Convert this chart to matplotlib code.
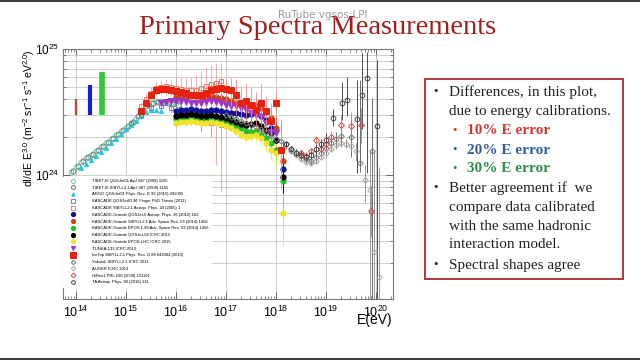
import numpy as np
import matplotlib
matplotlib.use("Agg")
import matplotlib.pyplot as plt
from matplotlib.patches import Rectangle
from matplotlib.ticker import LogLocator, NullFormatter, FixedLocator

plt.rcParams['font.family'] = ['Liberation Sans', 'DejaVu Sans']
plt.rcParams['mathtext.fontset'] = 'custom'
plt.rcParams['mathtext.rm'] = 'Liberation Sans'
plt.rcParams['mathtext.it'] = 'Liberation Sans:italic'
plt.rcParams['mathtext.bf'] = 'Liberation Sans:bold'

# ---------------- data (log10 E [eV], E^3 dI/dE in units of 1e24) ----------------
tibq_logE = [13.9, 14.0, 14.1, 14.2, 14.3, 14.4, 14.5, 14.6, 14.7, 14.8, 14.9,
             15.0, 15.1, 15.2, 15.3, 15.4, 15.5, 15.6, 15.7, 15.8, 15.9, 16.0]
tibq_F = [1.05, 1.16, 1.27, 1.37, 1.45, 1.55, 1.66, 1.80, 1.93, 2.07, 2.22,
          2.38, 2.55, 2.80, 3.20, 3.55, 3.75, 3.85, 3.85, 3.80, 3.75, 3.70]
tibs_logE = [13.95, 14.05, 14.15, 14.25, 14.35, 14.45, 14.55, 14.65, 14.75, 14.85, 14.95,
             15.05, 15.15, 15.25, 15.35, 15.45, 15.55, 15.65, 15.75, 15.85, 15.95, 16.05]
tibs_F = [1.08, 1.19, 1.29, 1.38, 1.48, 1.58, 1.70, 1.83, 1.97, 2.12, 2.28,
          2.45, 2.65, 2.95, 3.30, 3.60, 3.75, 3.80, 3.75, 3.70, 3.65, 3.60]
argo_logE = [14.1, 14.2, 14.3, 14.4, 14.5, 14.6, 14.7, 14.8, 14.9, 15.0, 15.1,
             15.2, 15.3, 15.4, 15.5, 15.6, 15.7]
argo_F = [1.13, 1.22, 1.32, 1.42, 1.52, 1.65, 1.80, 1.95, 2.12, 2.30, 2.50,
          2.70, 2.95, 3.15, 3.30, 3.30, 3.22]
kq_logE = [15.1, 15.3, 15.5, 15.7, 15.9, 16.1, 16.3, 16.5, 16.7, 16.9]
kq_F = [2.6, 3.0, 3.4, 3.5, 3.4, 3.2, 3.0, 2.8, 2.6, 2.5]
kq_hi = [0.2, 0.2, 0.3, 0.3, 0.3, 0.4, 0.5, 0.6, 0.8, 1.0]
kq_lo = [0.2, 0.2, 0.3, 0.3, 0.3, 0.4, 0.5, 0.6, 0.6, 0.8]
ks_logE = [15.3, 15.4, 15.5, 15.6, 15.7, 15.8, 15.9, 16.0, 16.1, 16.2, 16.3,
           16.4, 16.5, 16.6, 16.7, 16.8, 16.9]
ks_F = [3.5, 4.0, 4.5, 4.9, 5.0, 5.05, 5.0, 4.95, 4.85, 4.75, 4.7,
        4.75, 4.9, 5.1, 5.3, 5.4, 5.6]
ks_hi = [0.3, 0.4, 0.5, 0.6, 0.6, 0.7, 0.8, 0.9, 1.0, 1.1, 1.3,
         1.5, 1.8, 2.0, 2.2, 2.3, 2.1]
ks_lo = [0.3, 0.4, 0.5, 0.6, 0.6, 0.7, 0.8, 0.9, 1.0, 1.1, 1.3,
         1.5, 1.8, 2.2, 3.0, 4.2, 4.87]
kg_logE = [16.0, 16.1, 16.2, 16.3, 16.4, 16.5, 16.6, 16.7, 16.8, 16.9, 17.0,
           17.1, 17.2, 17.3, 17.4, 17.5, 17.6, 17.7, 17.8, 17.9, 18.0, 18.15]
kg_relerr = [0.03, 0.03, 0.03, 0.03, 0.03, 0.03, 0.04, 0.04, 0.04, 0.05, 0.05,
             0.06, 0.06, 0.07, 0.08, 0.09, 0.10, 0.12, 0.14, 0.17, 0.22, 0.45]
kgq2_F = [3.22, 3.28, 3.28, 3.34, 3.28, 3.22, 3.22, 3.28, 3.28, 3.22, 3.16,
          3.10, 3.10, 3.05, 2.99, 3.05, 3.10, 2.94, 2.73, 2.36, 1.89, 1.12]
kgsib_F = [4.16, 4.24, 4.24, 4.31, 4.24, 4.16, 4.16, 4.24, 4.16, 4.09, 4.01,
           3.86, 3.73, 3.59, 3.46, 3.52, 3.59, 3.40, 3.16, 2.83, 2.36, 1.29]
kgepos_F = [2.78, 2.83, 2.83, 2.88, 2.83, 2.78, 2.78, 2.83, 2.78, 2.73, 2.68,
            2.59, 2.45, 2.36, 2.23, 2.19, 2.23, 2.08, 1.97, 1.79, 1.58, 0.90]
kgq4_F = [2.94, 2.99, 2.99, 3.05, 2.99, 2.94, 2.94, 2.99, 2.94, 2.88, 2.83,
          2.73, 2.63, 2.54, 2.49, 2.54, 2.59, 2.45, 2.28, 2.15, 1.89, 0.96]
kglhc_F = [2.59, 2.63, 2.63, 2.68, 2.63, 2.59, 2.59, 2.63, 2.59, 2.54, 2.45,
           2.36, 2.23, 2.08, 2.00, 2.03, 2.08, 1.97, 1.79, 1.58, 1.50, 0.50]
tunka_logE = [15.7, 15.8, 15.9, 16.0, 16.1, 16.2, 16.3, 16.4, 16.5, 16.6, 16.7, 16.8,
              16.9, 17.0, 17.1, 17.2, 17.3, 17.4, 17.5, 17.6, 17.7, 17.8, 17.9, 18.0]
tunka_F = [3.7, 3.8, 3.85, 3.9, 3.85, 3.8, 3.75, 3.7, 3.75, 3.8, 3.85, 3.8,
           3.75, 3.6, 3.5, 3.55, 3.4, 3.3, 3.1, 3.0, 2.9, 2.6, 2.2, 2.15]
ice_logE = [15.3, 15.4, 15.5, 15.6, 15.7, 15.8, 15.9, 16.0, 16.1, 16.2, 16.3, 16.4, 16.5,
            16.6, 16.7, 16.8, 16.9, 17.0, 17.1, 17.2, 17.3, 17.4, 17.5, 17.6, 17.7,
            17.8, 17.9, 18.0, 18.1]
ice_F = [3.2, 3.7, 4.3, 4.7, 4.8, 4.8, 4.75, 4.65, 4.55, 4.45, 4.35, 4.3, 4.35,
         4.5, 4.7, 4.85, 4.9, 4.85, 4.7, 4.3, 3.7, 3.9, 3.6, 3.3, 3.7,
         3.2, 2.7, 3.7, 1.58]
ice_hi = [0.2, 0.2, 0.25, 0.3, 0.3, 0.3, 0.3, 0.3, 0.3, 0.3, 0.3, 0.3, 0.35,
          0.4, 0.5, 0.6, 0.8, 1.0, 1.2, 1.5, 1.3, 1.5, 1.4, 1.3, 1.6,
          1.0, 1.0, 1.0, 1.2]
ice_lo = [0.2, 0.2, 0.25, 0.3, 0.3, 0.3, 0.3, 0.3, 0.3, 0.3, 0.3, 0.3, 0.35,
          0.4, 0.5, 0.6, 0.8, 1.0, 1.2, 1.3, 1.0, 1.2, 1.1, 1.0, 1.2,
          1.0, 0.9, 1.0, 0.8]
yak_logE = [17.0, 17.1, 17.2, 17.3, 17.4, 17.5, 17.6, 17.7, 17.8, 17.9, 18.0, 18.1,
            18.2, 18.3, 18.4, 18.5, 18.6, 18.7, 18.8, 18.9, 19.0, 19.1, 19.2, 19.3,
            19.5, 19.68, 19.92]
yak_F = [3.0, 2.9, 2.8, 2.7, 2.6, 2.5, 2.4, 2.3, 2.2, 2.05, 1.95, 1.85,
         1.75, 1.6, 1.5, 1.42, 1.35, 1.3, 1.38, 1.5, 1.65, 1.8, 1.95, 2.05,
         2.0, 1.25, 1.55]
yak_hi = [0.15, 0.15, 0.15, 0.15, 0.15, 0.15, 0.15, 0.15, 0.12, 0.12, 0.12, 0.12,
          0.1, 0.1, 0.1, 0.1, 0.1, 0.1, 0.1, 0.12, 0.15, 0.2, 0.25, 0.35,
          0.8, 4.4, 2.5]
yak_lo = [0.15, 0.15, 0.15, 0.15, 0.15, 0.15, 0.15, 0.15, 0.12, 0.12, 0.12, 0.12,
          0.1, 0.1, 0.1, 0.1, 0.1, 0.1, 0.1, 0.12, 0.15, 0.2, 0.25, 0.3,
          0.6, 0.2, 1.5]
aug_logE = [18.3, 18.4, 18.5, 18.6, 18.7, 18.8, 18.9, 19.0, 19.1, 19.2, 19.3, 19.4,
            19.5, 19.6, 19.78, 19.88, 19.96, 20.06]
aug_F = [1.55, 1.45, 1.35, 1.28, 1.25, 1.3, 1.4, 1.5, 1.62, 1.72, 1.8, 1.78,
         1.7, 1.55, 0.91, 0.76, 0.245, 0.155]
aug_hi = [0.05, 0.05, 0.05, 0.05, 0.05, 0.05, 0.06, 0.07, 0.08, 0.1, 0.12, 0.15,
          0.2, 0.25, 0.3, 0.8, 1.3, 1.0]
aug_lo = [0.05, 0.05, 0.05, 0.05, 0.05, 0.05, 0.06, 0.07, 0.08, 0.1, 0.12, 0.15,
          0.2, 0.25, 0.3, 0.71, 0.2, 0.12]
hires_logE = [18.5, 18.6, 18.7, 18.8, 18.9, 19.0, 19.1, 19.3, 19.5, 19.7, 19.9]
hires_F = [1.5, 1.42, 1.55, 1.9, 1.6, 1.75, 2.0, 2.49, 2.45, 2.49, 0.52]
hires_hi = [0.1, 0.1, 0.1, 0.15, 0.15, 0.2, 0.25, 0.5, 0.7, 0.9, 0.3]
hires_lo = [0.1, 0.1, 0.1, 0.15, 0.15, 0.2, 0.25, 0.4, 0.5, 0.7, 0.2]
ta_logE = [18.2, 18.3, 18.4, 18.5, 18.6, 18.7, 18.8, 18.9, 19.0, 19.14, 19.32, 19.42,
           19.62, 19.72, 19.82, 20.02]
ta_F = [1.75, 1.6, 1.5, 1.45, 1.4, 1.45, 1.6, 1.75, 1.9, 2.83, 3.73, 3.94,
        2.78, 4.31, 5.89, 2.45]
ta_hi = [0.1, 0.1, 0.1, 0.1, 0.1, 0.1, 0.15, 0.2, 0.25, 0.5, 1.7, 2.1,
         2.9, 5.0, 3.6, 5.8]
ta_lo = [0.1, 0.1, 0.1, 0.1, 0.1, 0.1, 0.15, 0.2, 0.25, 0.4, 1.0, 1.0,
         1.74, 2.0, 4.85, 2.4]

# energy-error bars (10%, 20%, 30%)
err_logE = [14.01, 14.28, 14.53]
err_base = [3.0, 3.0, 3.0]
err_top = [3.99, 5.18, 6.59]
err_colors = ['#bf4a2c', '#1c1cd0', '#2ecc2e']
err_widths = [1.7, 3.0, 4.1]

# axis ticks
xtick_exp = [14, 15, 16, 17, 18, 19, 20]
ytick_exp = [24, 25]

labels = [
    "TIBET-III QGSJet01 ApJ 687 (2008) 1165",
    "TIBET-III SIBYLL2.1 ApJ 687 (2008) 1165",
    "ARGO QGSJet01 Phys. Rev. D 92 (2015) 092005",
    "KASCADE QGSJet01 M. Finger PhD Thesis (2011)",
    "KASCADE SIBYLL2.1 Astrop. Phys. 24 (2005) 1",
    "KASCADE-Grande QGSJet-II Astrop. Phys. 36 (2012) 183",
    "KASCADE-Grande SIBYLL2.1 Adv. Space Res. 53 (2014) 1456",
    "KASCADE-Grande EPOS 1.99 Adv. Space Res. 53 (2014) 1456",
    "KASCADE-Grande QGSJet-04 ICRC 2015",
    "KASCADE-Grande EPOS-LHC ICRC 2015",
    "TUNKA-133 ICRC 2013",
    "IceTop SIBYLL2.1 Phys. Rev. D 88 042004 (2013)",
    "Yakutsk SIBYLL2.1 ICRC 2011",
    "AUGER ICRC 2013",
    "HiRes1 PRL 100 (2008) 101101",
    "TA Astrop. Phys. 80 (2016) 131",
]

# ---------------- figure ----------------
W, H = 640, 360
fig = plt.figure(figsize=(6.4, 3.6), dpi=100)
fig.patch.set_facecolor('white')

def fx(px):
    return px / W

def fy(py):
    return 1 - py / H

ax = fig.add_axes([fx(63), fy(299), fx(393) - fx(63), fy(49) - fy(299)])
ax.set_xscale('log')
ax.set_yscale('log')
ax.set_xlim(10 ** 13.74, 10 ** 20.34)
ax.set_ylim(1.04e23, 1e25)

def E(l):
    return 10 ** np.asarray(l, dtype=float)

def Fv(f):
    return np.asarray(f, dtype=float) * 1e24

handles = []

def series(logE, F, marker, color, label, ms=3.5, filled=True, lo=None, hi=None,
           ecolor=None, rel=None, mew=0.7, z=3):
    x = E(logE)
    y = Fv(F)
    if rel is not None:
        e = y * np.asarray(rel)
        ax.errorbar(x, y, yerr=[e, e], fmt='none', ecolor=ecolor or color,
                    elinewidth=0.6, capsize=0, zorder=z - 0.5)
    if lo is not None:
        ax.errorbar(x, y, yerr=[Fv(lo), Fv(hi)], fmt='none', ecolor=ecolor or color,
                    elinewidth=0.6, capsize=0, zorder=z - 0.5)
    h, = ax.plot(x, y, linestyle='none', marker=marker, ms=ms,
                 mfc=color if filled else 'none', mec=color, mew=mew,
                 label=label, zorder=z)
    handles.append(h)

series(tibq_logE, tibq_F, 'o', '#6fcf8f', labels[0], ms=3.6, filled=False)
series(tibs_logE, tibs_F, 'o', '#667788', labels[1], ms=3.6, filled=False)
series(argo_logE, argo_F, '^', '#22c8e0', labels[2], ms=3.0)
series(kq_logE, kq_F, 's', '#8080a8', labels[3], ms=3.4, filled=False,
       lo=kq_lo, hi=kq_hi, ecolor='#9a9ab0')
series(ks_logE, ks_F, 's', '#ec7a6a', labels[4], ms=3.4, filled=False,
       lo=ks_lo, hi=ks_hi, ecolor='#f0a0a0')
series(kg_logE, kgq2_F, 'o', '#10109a', labels[5], ms=3.8, rel=kg_relerr)
series(kg_logE, kgsib_F, 'o', '#c8401c', labels[6], ms=3.8, rel=kg_relerr)
series(kg_logE, kgepos_F, 'o', '#22c022', labels[7], ms=3.8, rel=kg_relerr)
series(kg_logE, kgq4_F, 'o', '#000000', labels[8], ms=3.8, rel=kg_relerr)
series(kg_logE, kglhc_F, 'o', '#f2e22a', labels[9], ms=3.8, rel=kg_relerr)
series(tunka_logE, tunka_F, 'v', '#a034c8', labels[10], ms=3.8)
series(ice_logE, ice_F, 's', '#e8200e', labels[11], ms=4.6,
       lo=ice_lo, hi=ice_hi, ecolor='#f08a80', z=4)
series(yak_logE, yak_F, 'D', '#777777', labels[12], ms=2.8, filled=False,
       lo=yak_lo, hi=yak_hi, ecolor='#555555')
series(aug_logE, aug_F, 'D', '#a8a8a8', labels[13], ms=2.8, filled=False,
       lo=aug_lo, hi=aug_hi, ecolor='#888888')
series(hires_logE, hires_F, 'D', '#dd4444', labels[14], ms=3.0, filled=False,
       lo=hires_lo, hi=hires_hi, ecolor='#e07070')
series(ta_logE, ta_F, 'o', '#444444', labels[15], ms=3.4, filled=False,
       lo=ta_lo, hi=ta_hi, ecolor='#333333')

for xl, b, t, c, w in zip(err_logE, err_base, err_top, err_colors, err_widths):
    ax.vlines(10 ** xl, b * 1e24, t * 1e24, colors=c, linewidth=w, zorder=5)

# grid / ticks
ax.set_axisbelow(True)
ax.xaxis.set_major_locator(FixedLocator([10.0 ** e for e in xtick_exp]))
ax.yaxis.set_major_locator(FixedLocator([10.0 ** e for e in ytick_exp]))
ax.xaxis.set_minor_locator(LogLocator(base=10, subs=np.arange(2, 10), numticks=100))
ax.yaxis.set_minor_locator(LogLocator(base=10, subs=np.arange(2, 10), numticks=100))
ax.set_xticklabels([r'$10^{%d}$' % e for e in xtick_exp])
ax.set_yticklabels([r'$10^{%d}$' % e for e in ytick_exp])
ax.xaxis.set_minor_formatter(NullFormatter())
ax.yaxis.set_minor_formatter(NullFormatter())
ax.grid(True, which='major', axis='x', color='#c8c8c8', lw=0.6)
ax.grid(True, which='both', axis='y', color='#c8c8c8', lw=0.6)
ax.tick_params(which='both', direction='in', top=True, right=True, colors='#555555',
               labelcolor='black')
ax.tick_params(which='major', length=5, width=0.6)
ax.tick_params(axis='x', which='major', labelsize=9, pad=4)
ax.tick_params(axis='y', which='major', labelsize=8.5, pad=3)
ax.tick_params(which='minor', length=2.5, width=0.5)
for s in ax.spines.values():
    s.set_color('#777777')
    s.set_linewidth(0.8)

ax.text(-0.104, 1.0, r'dI/dE E$^{3.0}$ (m$^{-2}$ sr$^{-1}$ s$^{-1}$ eV$^{2.0}$)',
        rotation=90, ha='center', va='top', fontsize=7.6, transform=ax.transAxes)
ax.text(1.0, -0.085, 'E(eV)', ha='right', va='center', fontsize=10,
        transform=ax.transAxes)

leg = ax.legend(handles=handles, loc='upper left', bbox_to_anchor=(0.0, 0.49),
                borderaxespad=0, fontsize=3.0, labelspacing=0.66, handlelength=3.8,
                handletextpad=2.6, borderpad=0.6, frameon=True, framealpha=1,
                facecolor='white', edgecolor='white', fancybox=False,
                markerscale=0.8)
leg.set_zorder(10)

# ---------------- slide decorations ----------------
fig.add_artist(Rectangle((0, fy(2)), 1, 2 / H, transform=fig.transFigure,
                         color='#3a3a3a', lw=0))
fig.add_artist(Rectangle((0, 0), 1, 2 / H, transform=fig.transFigure,
                         color='#3a3a3a', lw=0))
fig.text(fx(318), fy(28), 'Primary Spectra Measurements', ha='center', va='center',
         fontsize=20.5, color='#a31d1d', family='Liberation Serif')
fig.text(fx(323), fy(15), 'RuTube vgsos:LPI', ha='center', va='center',
         fontsize=7.5, color='#9a9a9a', family='DejaVu Sans')

fig.add_artist(Rectangle((fx(425), fy(279)), fx(623) - fx(425), fy(79) - fy(279),
                         transform=fig.transFigure, fill=False,
                         edgecolor='#b03a3a', lw=1.4))

serif = 'Liberation Serif'
lines = [
    (433, 449, 92, '•', 'Differences, in this plot,', '#222222', 'normal'),
    (None, 449, 112, None, 'due to energy calibrations.', '#222222', 'normal'),
    (452, 467, 131, '•', '10% E error', '#d03a30', 'bold'),
    (452, 467, 150, '•', '20% E error', '#2f5f9e', 'bold'),
    (452, 467, 169, '•', '30% E error', '#2e8b4a', 'bold'),
    (433, 449, 188, '•', 'Better agreement if  we', '#222222', 'normal'),
    (None, 449, 208, None, 'compare data calibrated', '#222222', 'normal'),
    (None, 449, 227, None, 'with the same hadronic', '#222222', 'normal'),
    (None, 449, 245, None, 'interaction model.', '#222222', 'normal'),
    (433, 449, 265, '•', 'Spectral shapes agree', '#222222', 'normal'),
]
for bx, tx, ty, b, t, c, w in lines:
    if b is not None:
        fig.text(fx(bx), fy(ty), b, ha='left', va='center', fontsize=9,
                 color=c, family=serif)
    fig.text(fx(tx), fy(ty), t, ha='left', va='center', fontsize=11,
             color=c, family=serif, weight=w)

fig.savefig('out.png', dpi=100, facecolor='white')
